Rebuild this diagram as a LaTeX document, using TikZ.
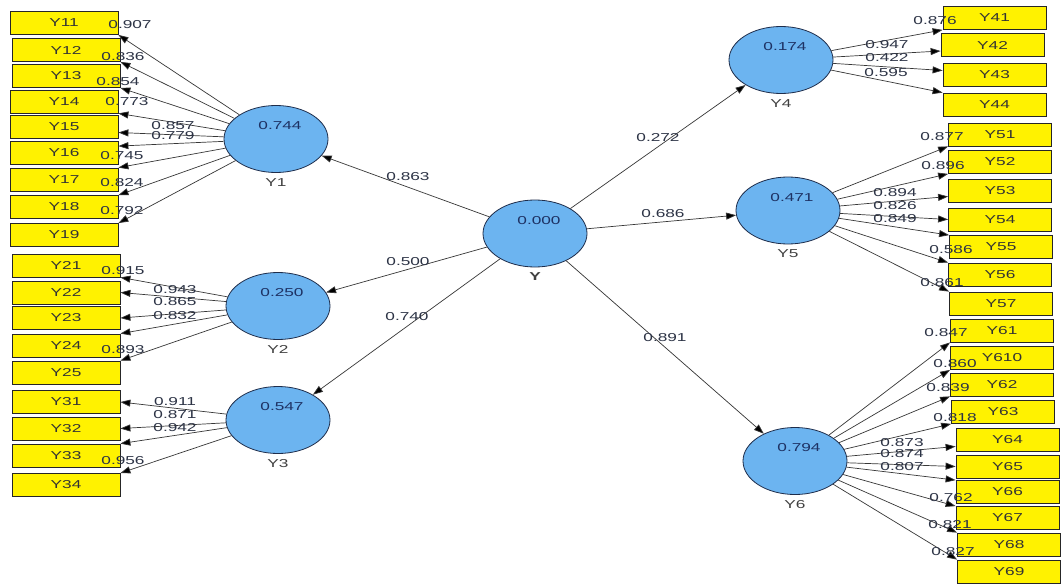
\documentclass[tikz,border=0pt]{standalone}
\usepackage{fontspec}
\setmainfont{Liberation Sans}
\newfontfamily\widefont[FakeStretch=1.5]{Liberation Sans}
\usetikzlibrary{shapes.geometric, arrows.meta}

\definecolor{lvblue}{RGB}{108,180,240}
\definecolor{lvline}{RGB}{30,45,75}
\definecolor{wire}{RGB}{55,55,55}
\definecolor{numtext}{RGB}{45,52,70}
\definecolor{valtext}{RGB}{30,50,100}

\tikzset{
	lv/.style={ellipse, draw=lvline, fill=lvblue, line width=0.8pt, minimum width=104pt, minimum height=67pt, inner sep=0pt},
	mv/.style={rectangle, draw=black!85, fill=yellow, line width=0.8pt, minimum width=108pt, minimum height=23pt, inner sep=0pt, text=black!80, font=\widefont\fontsize{11.5}{12}\selectfont},
	mvr/.style={mv, minimum width=103pt},
	val/.style={text=valtext, inner sep=0pt, xshift=4pt, yshift=13pt, font=\widefont\fontsize{11.5}{12}\selectfont},
	nm/.style={text=black!75, inner sep=1pt, label distance=4pt, font=\widefont\fontsize{11.5}{12}\selectfont},
	ld/.style={text=numtext, inner sep=0pt, font=\widefont\fontsize{11.5}{12}\selectfont},
	ar/.style={draw=wire, line width=0.7pt, -{Triangle[length=10pt, width=7pt, fill=black]}}
}

\begin{document}
\begin{tikzpicture}[x=1pt, y=-1pt]
	\useasboundingbox[fill=white] (0,0) rectangle (1064,583);

	\node [mv] (Y11) at (64,23) {Y11};
	\node [mv] (Y12) at (66,50) {Y12};
	\node [mv] (Y13) at (66,76) {Y13};
	\node [mv] (Y14) at (64,101.5) {Y14};
	\node [mv] (Y15) at (64,126.5) {Y15};
	\node [mv] (Y16) at (64,153) {Y16};
	\node [mv] (Y17) at (64,179.5) {Y17};
	\node [mv] (Y18) at (64,207) {Y18};
	\node [mv] (Y19) at (64,235) {Y19};
	\node [mv] (Y21) at (66,265.5) {Y21};
	\node [mv] (Y22) at (66,292.5) {Y22};
	\node [mv] (Y23) at (66,318) {Y23};
	\node [mv] (Y24) at (66,345.5) {Y24};
	\node [mv] (Y25) at (66,372.5) {Y25};
	\node [mv] (Y31) at (66,402) {Y31};
	\node [mv] (Y32) at (66,428.5) {Y32};
	\node [mv] (Y33) at (66,455.5) {Y33};
	\node [mv] (Y34) at (66,485) {Y34};

	\node [mvr] (Y41) at (994.5,18) {Y41};
	\node [mvr] (Y42) at (992.5,45) {Y42};
	\node [mvr] (Y43) at (994.5,74.5) {Y43};
	\node [mvr] (Y44) at (994.5,104.5) {Y44};
	\node [mvr] (Y51) at (1000,134.5) {Y51};
	\node [mvr] (Y52) at (1000,162) {Y52};
	\node [mvr] (Y53) at (1000,190.5) {Y53};
	\node [mvr] (Y54) at (1000,219.5) {Y54};
	\node [mvr] (Y55) at (1001,247) {Y55};
	\node [mvr] (Y56) at (1000,274.5) {Y56};
	\node [mvr] (Y57) at (1001,303.5) {Y57};
	\node [mvr] (Y61) at (1002,330.5) {Y61};
	\node [mvr] (Y610) at (1002,358) {Y610};
	\node [mvr] (Y62) at (1002,384.5) {Y62};
	\node [mvr] (Y63) at (1003,412) {Y63};
	\node [mvr] (Y64) at (1007.5,439.5) {Y64};
	\node [mvr] (Y65) at (1007.5,466.5) {Y65};
	\node [mvr] (Y66) at (1007.5,492) {Y66};
	\node [mvr] (Y67) at (1007.5,518) {Y67};
	\node [mvr] (Y68) at (1009,544.5) {Y68};
	\node [mvr] (Y69) at (1009,571.5) {Y69};

	\node [lv, label={[val]center:0.744}, label={[nm]below:Y1}] (Y1) at (276,139) {};
	\node [lv, label={[val]center:0.250}, label={[nm]below:Y2}] (Y2) at (278,306) {};
	\node [lv, label={[val]center:0.547}, label={[nm]below:Y3}] (Y3) at (278,420) {};
	\node [lv, label={[val]center:0.000}, label={[nm, font=\widefont\bfseries\fontsize{11.5}{12}\selectfont]below:Y}] (Y) at (535,233.5) {};
	\node [lv, label={[val]center:0.174}, label={[nm]below:Y4}] (Y4) at (781,60) {};
	\node [lv, label={[val]center:0.471}, label={[nm]below:Y5}] (Y5) at (788,210.5) {};
	\node [lv, label={[val]center:0.794}, label={[nm]below:Y6}] (Y6) at (795,461) {};

	\draw [ar] (Y) -- (Y1);
	\draw [ar] (Y) -- (Y2);
	\draw [ar] (Y) -- (Y3);
	\draw [ar] (Y) -- (Y4);
	\draw [ar] (Y) -- (Y5);
	\draw [ar] (Y) -- (Y6);

	\draw [ar] (Y1) -- (Y11.south east);
	\draw [ar] (Y1) -- (Y12.south east);
	\draw [ar] (Y1) -- (Y13.south east);
	\draw [ar] (Y1) -- (Y14.south east);
	\draw [ar] (Y1) -- ([yshift=-6pt]Y15.east);
	\draw [ar] (Y1) -- ([yshift=-5pt]Y16.north east);
	\draw [ar] (Y1) -- (Y17.north east);
	\draw [ar] (Y1) -- (Y18.north east);
	\draw [ar] (Y1) -- (Y19.north east);

	\draw [ar] (Y2) -- (Y21.south east);
	\draw [ar] (Y2) -- (Y22.east);
	\draw [ar] (Y2) -- (Y23.east);
	\draw [ar] (Y2) -- (Y24.north east);
	\draw [ar] (Y2) -- (Y25.north east);

	\draw [ar] (Y3) -- (Y31.east);
	\draw [ar] (Y3) -- (Y32.east);
	\draw [ar] (Y3) -- (Y33.north east);
	\draw [ar] (Y3) -- (Y34.north east);

	\draw [ar] (Y4) -- (Y41.south west);
	\draw [ar] (Y4) -- ([yshift=-6pt]Y42.west);
	\draw [ar] (Y4) -- ([yshift=4pt]Y43.west);
	\draw [ar] (Y4) -- (Y44.north west);

	\draw [ar] (Y5) -- (Y51.south west);
	\draw [ar] (Y5) -- (Y52.south west);
	\draw [ar] (Y5) -- ([yshift=-6pt]Y53.west);
	\draw [ar] (Y5) -- (Y54.west);
	\draw [ar] (Y5) -- (Y55.north west);
	\draw [ar] (Y5) -- (Y56.north west);
	\draw [ar] (Y5) -- (Y57.north west);

	\draw [ar] (Y6) -- (Y61.south west);
	\draw [ar] (Y6) -- (Y610.south west);
	\draw [ar] (Y6) -- (Y62.south west);
	\draw [ar] (Y6) -- (Y63.south west);
	\draw [ar] (Y6) -- ([yshift=-7pt]Y64.west);
	\draw [ar] (Y6) -- (Y65.west);
	\draw [ar] (Y6) -- (Y66.north west);
	\draw [ar] (Y6) -- (Y67.north west);
	\draw [ar] (Y6) -- (Y68.north west);
	\draw [ar] (Y6) -- (Y69.north west);

	\node [ld] (lY1) at (408,177) {0.863};
	\node [ld] (lY2) at (408,262) {0.500};
	\node [ld] (lY3) at (407,317) {0.740};
	\node [ld] (lY4) at (658,138) {0.272};
	\node [ld] (lY5) at (663,214) {0.686};
	\node [ld] (lY6) at (665,338) {0.891};

	\node [ld] (l11) at (130,25) {0.907};
	\node [ld] (l12) at (123,57) {0.836};
	\node [ld] (l13) at (118,82) {0.854};
	\node [ld] (l14) at (127,102) {0.773};
	\node [ld] (l15) at (173,126) {0.857};
	\node [ld] (l16) at (173,136) {0.779};
	\node [ld] (l17) at (122,156) {0.745};
	\node [ld] (l18) at (122,183) {0.824};
	\node [ld] (l19) at (122,211) {0.792};

	\node [ld] (l21) at (123,271) {0.915};
	\node [ld] (l22) at (175,290) {0.943};
	\node [ld] (l23) at (175,302) {0.865};
	\node [ld] (l24) at (175,316) {0.832};
	\node [ld] (l25) at (123,350) {0.893};

	\node [ld] (l31) at (175,402) {0.911};
	\node [ld] (l32) at (175,415) {0.871};
	\node [ld] (l33) at (175,428) {0.942};
	\node [ld] (l34) at (123,461) {0.956};

	\node [ld] (l41) at (935,21) {0.876};
	\node [ld] (l42) at (887,45) {0.947};
	\node [ld] (l43) at (887,58) {0.422};
	\node [ld] (l44) at (886,73) {0.595};

	\node [ld] (l51) at (942,137) {0.877};
	\node [ld] (l52) at (943,166) {0.896};
	\node [ld] (l53) at (895,193) {0.894};
	\node [ld] (l54) at (895,206) {0.826};
	\node [ld] (l55) at (895,219) {0.849};
	\node [ld] (l56) at (951,250) {0.586};
	\node [ld] (l57) at (942,283) {0.861};

	\node [ld] (l61) at (946,333) {0.847};
	\node [ld] (l610) at (955,364) {0.860};
	\node [ld] (l62) at (948,388) {0.839};
	\node [ld] (l63) at (955,418) {0.818};
	\node [ld] (l64) at (902,443) {0.873};
	\node [ld] (l65) at (902,454) {0.874};
	\node [ld] (l66) at (902,467) {0.807};
	\node [ld] (l67) at (951,498) {0.762};
	\node [ld] (l68) at (950,525) {0.821};
	\node [ld] (l69) at (953,552) {0.827};
\end{tikzpicture}
\end{document}
